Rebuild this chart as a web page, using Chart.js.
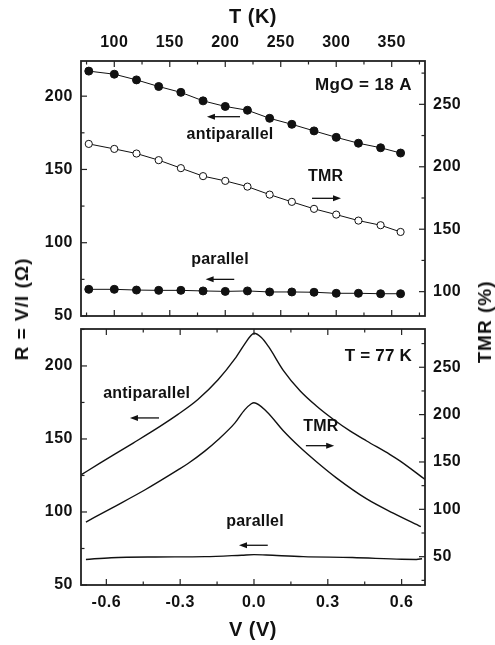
<!DOCTYPE html>
<html><head><meta charset="utf-8">
<script src="https://cdn.jsdelivr.net/npm/chart.js@4.4.0/dist/chart.umd.min.js"></script>
<style>
html,body{margin:0;padding:0;background:#fff;}
#wrap{position:relative;width:495px;height:645px;overflow:hidden;background:#fff;}
canvas{position:absolute;left:0;}
.ytitle{position:absolute;font:bold 19px "Liberation Sans",Arial,sans-serif;letter-spacing:1px;white-space:nowrap;transform:translate(-50%,-50%) rotate(-90deg);color:#111;}
</style></head><body>
<div id="wrap">
<canvas id="c1" width="495" height="322" style="top:0"></canvas>
<canvas id="c2" width="495" height="323" style="top:322px"></canvas>
<div class="ytitle" style="left:22px;top:309px">R = V/I (Ω)</div>
<div class="ytitle" style="left:485px;top:322px">TMR (%)</div>
</div>
<script>
// ---------- data: top panel (vs temperature) ----------
const T_K = [77,100,120,140,160,180,200,220,240,260,280,300,320,340,358];
const R_ANTIPARALLEL_T = [217.1,215.0,211.1,206.6,202.6,196.8,193.0,190.4,184.9,180.8,176.3,171.9,167.9,164.8,161.2];
const TMR_T = [218.3,214.3,210.6,205.3,198.9,192.5,188.7,184.1,177.7,171.9,166.3,161.7,156.9,153.2,147.8];
const R_PARALLEL_T = [68.2,68.2,67.7,67.5,67.5,67.1,66.8,67.1,66.4,66.4,66.2,65.5,65.5,65.2,65.2];

// ---------- data: bottom panel (vs bias, T = 77 K) ----------
const V_AP = [-0.703,-0.626,-0.491,-0.382,-0.309,-0.228,-0.146,-0.078,-0.038,-0.015,0,0.03,0.06,0.119,0.187,0.255,0.322,0.390,0.458,0.553,0.593,0.695];
const R_ANTIPARALLEL_V = [125.4,133.4,147.2,158.6,166.8,177.0,190.5,204.8,215.0,220.3,222.4,219.5,213.0,197.0,183.0,172.4,163.5,155.5,148.6,139.3,135.0,122.3];
const V_TMR = [-0.683,-0.580,-0.444,-0.309,-0.268,-0.200,-0.146,-0.078,-0.038,-0.011,0,0.052,0.119,0.187,0.255,0.336,0.458,0.566,0.678];
const TMR_V = [86.6,101.1,120.4,141.6,148.4,161.5,173.5,191.0,205.0,211.5,212.6,203.1,183.0,165.5,150.0,133.0,111.0,96.0,81.7];
const V_P = [-0.683,-0.58,-0.4,-0.2,-0.05,0,0.05,0.2,0.4,0.6,0.66,0.683];
const R_PARALLEL_V = [67.5,68.7,69.2,69.4,70.4,70.8,70.5,69.4,68.8,67.6,67.5,68.0];

// ---------- tick labels ----------
const T_TICKS = [100,150,200,250,300,350];
const R_TICKS = [50,100,150,200];
const TMR_TICKS_TOP = [100,150,200,250];
const V_TICKS = [-0.6,-0.3,0.0,0.3,0.6];
const TMR_TICKS_BOTTOM = [50,100,150,200,250];

const FONT = '"Liberation Sans", Arial, sans-serif';
const INK = '#111';
const pairs = (xs, ys) => xs.map((x,i)=>({x, y: ys[i]}));
const fixTicks = list => scale => { scale.ticks = list.map(v=>({value:v})); };
const fit = (w,h) => s => { if (w!=null) s.width=w; if (h!=null) s.height=h;
  s.paddingTop=0; s.paddingBottom=0; s.paddingLeft=0; s.paddingRight=0; };

function minorVals(scale, majors){
  const step = majors[1]-majors[0], out=[];
  for (let v = majors[0]-step/2; v >= scale.min-1e-9; v -= step) out.push(v);
  for (let v = majors[0]+step/2; v <= scale.max+1e-9; v += step) out.push(v);
  return out;
}

const spacing = {
  id:'spacing',
  beforeUpdate(chart){ chart.ctx.letterSpacing = '0.5px'; },
  beforeDraw(chart){ chart.ctx.letterSpacing = '0.5px'; }
};

const frame = {
  id:'frame',
  afterDraw(chart, args, o){
    const {ctx, chartArea:a, scales} = chart;
    const xs = scales.x, yl = scales.y, yr = scales.yR;
    ctx.save();
    ctx.strokeStyle = '#222';
    ctx.lineWidth = 1.2;
    const seg=(x1,y1,x2,y2)=>{ctx.beginPath();ctx.moveTo(x1,y1);ctx.lineTo(x2,y2);ctx.stroke();};
    const MAJ=6, MIN=3.5;
    const xt=(vals,len)=>vals.forEach(v=>{const p=xs.getPixelForValue(v); seg(p,a.top,p,a.top+len); seg(p,a.bottom,p,a.bottom-len);});
    xt(o.xMajor,MAJ); xt(minorVals(xs,o.xMajor),MIN);
    const ylt=(vals,len)=>vals.forEach(v=>{const p=yl.getPixelForValue(v); seg(a.left,p,a.left+len,p);});
    ylt(o.yMajor,MAJ); ylt(minorVals(yl,o.yMajor),MIN);
    const yrt=(vals,len)=>vals.forEach(v=>{const p=yr.getPixelForValue(v); seg(a.right,p,a.right-len,p);});
    yrt(o.yRMajor,MAJ); yrt(minorVals(yr,o.yRMajor),MIN);
    ctx.lineWidth = 1.8;
    ctx.strokeRect(a.left, a.top, a.right-a.left, a.bottom-a.top);
    // annotations
    ctx.fillStyle = INK; ctx.strokeStyle = INK;
    ctx.textBaseline = 'middle';
    o.texts.forEach(t=>{
      ctx.font = 'bold '+(t.size||16)+'px '+FONT;
      ctx.letterSpacing = (t.ls||'0.2px');
      ctx.textAlign = t.align||'center';
      ctx.fillText(t.text, xs.getPixelForValue(t.x), yl.getPixelForValue(t.y));
    });
    ctx.lineWidth = 1.3;
    o.arrows.forEach(r=>{
      const x1=xs.getPixelForValue(r.from), x2=xs.getPixelForValue(r.to), y=yl.getPixelForValue(r.y);
      const d = Math.sign(x2-x1);
      seg(x1,y,x2-d*6,y);
      ctx.beginPath(); ctx.moveTo(x2,y); ctx.lineTo(x2-d*8,y-3); ctx.lineTo(x2-d*8,y+3); ctx.closePath(); ctx.fill();
    });
    ctx.restore();
  }
};

const tickFont = {family:FONT, size:16, weight:'bold'};
const titleFont = {family:FONT, size:20, weight:'bold'};
const noGrid = {display:false, drawTicks:false};

function yAxes(rMax, tmrMin, tmrMax, tmrTicks){
  return {
    y: {position:'left', min:50, max:rMax, grid:noGrid, border:{display:false},
        afterBuildTicks: fixTicks(R_TICKS), afterFit: fit(81,null),
        ticks:{font:tickFont, color:INK, padding:8}},
    yR: {position:'right', min:tmrMin, max:tmrMax, grid:noGrid, border:{display:false},
        afterBuildTicks: fixTicks(tmrTicks), afterFit: fit(70,null),
        ticks:{font:tickFont, color:INK, padding:8}}
  };
}

new Chart(document.getElementById('c1'), {
  type:'line',
  data:{datasets:[
    {label:'antiparallel', data:pairs(T_K,R_ANTIPARALLEL_T), yAxisID:'y', borderColor:INK, borderWidth:1,
     pointRadius:4, pointBackgroundColor:INK, pointBorderColor:INK, pointBorderWidth:1},
    {label:'TMR', data:pairs(T_K,TMR_T), yAxisID:'yR', borderColor:INK, borderWidth:1,
     pointRadius:3.6, pointBackgroundColor:'#fff', pointBorderColor:INK, pointBorderWidth:1},
    {label:'parallel', data:pairs(T_K,R_PARALLEL_T), yAxisID:'y', borderColor:INK, borderWidth:1,
     pointRadius:4, pointBackgroundColor:INK, pointBorderColor:INK, pointBorderWidth:1}
  ]},
  options:{
    responsive:false, animation:false, devicePixelRatio:1,
    layout:{padding:{left:0,right:0,top:0,bottom:6}},
    plugins:{legend:{display:false}, tooltip:{enabled:false},
      frame:{xMajor:T_TICKS, yMajor:R_TICKS, yRMajor:TMR_TICKS_TOP,
        texts:[{text:'antiparallel',x:204.3,y:173.5},{text:'TMR',x:290.5,y:144.8},{text:'parallel',x:195.3,y:88.7},
               {text:'MgO = 18 A',x:368.3,y:207.6,align:'right',size:17,ls:'0.4px'}],
        arrows:[{from:213.3,to:183.5,y:186},{from:278.2,to:304.3,y:130.3},{from:208.1,to:182.3,y:75}]}},
    scales:Object.assign({
      x:{type:'linear', position:'top', min:70, max:380, grid:noGrid, border:{display:false},
         afterBuildTicks: fixTicks(T_TICKS), afterFit: fit(null,61),
         ticks:{font:tickFont, color:INK, padding:9, maxRotation:0},
         title:{display:true, text:'T (K)', font:titleFont, color:INK, padding:{top:5,bottom:0}}}
    }, yAxes(224, 80.5, 284.7, TMR_TICKS_TOP))
  },
  plugins:[spacing, frame]
});

new Chart(document.getElementById('c2'), {
  type:'line',
  data:{datasets:[
    {label:'antiparallel', data:pairs(V_AP,R_ANTIPARALLEL_V), yAxisID:'y', borderColor:INK, borderWidth:1.4,
     pointRadius:0, cubicInterpolationMode:'monotone'},
    {label:'TMR', data:pairs(V_TMR,TMR_V), yAxisID:'yR', borderColor:INK, borderWidth:1.4,
     pointRadius:0, cubicInterpolationMode:'monotone'},
    {label:'parallel', data:pairs(V_P,R_PARALLEL_V), yAxisID:'y', borderColor:INK, borderWidth:1.4,
     pointRadius:0, cubicInterpolationMode:'monotone'}
  ]},
  options:{
    responsive:false, animation:false, devicePixelRatio:1,
    layout:{padding:{left:0,right:0,top:7,bottom:0}},
    plugins:{legend:{display:false}, tooltip:{enabled:false},
      frame:{xMajor:V_TICKS, yMajor:R_TICKS, yRMajor:TMR_TICKS_BOTTOM,
        texts:[{text:'antiparallel',x:-0.436,y:181.3},{text:'TMR',x:0.272,y:158.4},{text:'parallel',x:0.004,y:93.4},
               {text:'T = 77 K',x:0.642,y:206.8,align:'right',size:17,ls:'0.2px'}],
        arrows:[{from:-0.386,to:-0.504,y:164.4},{from:0.211,to:0.326,y:145.4},{from:0.056,to:-0.061,y:77.2}]}},
    scales:Object.assign({
      x:{type:'linear', position:'bottom', min:-0.703, max:0.695, grid:noGrid, border:{display:false},
         afterBuildTicks: fixTicks(V_TICKS), afterFit: fit(null,60),
         ticks:{font:tickFont, color:INK, padding:8, maxRotation:0, callback:v=>Number(v).toFixed(1)},
         title:{display:true, text:'V (V)', font:titleFont, color:INK, padding:{top:0,bottom:3}}}
    }, yAxes(225.3, 20.1, 290.4, TMR_TICKS_BOTTOM))
  },
  plugins:[spacing, frame]
});
</script>
</body></html>
